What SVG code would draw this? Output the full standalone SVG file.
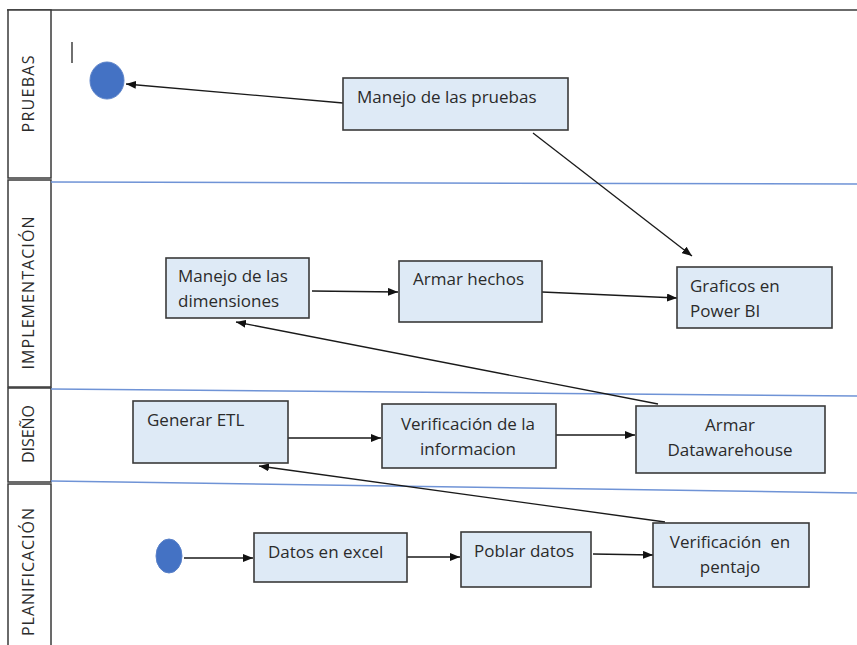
<svg xmlns="http://www.w3.org/2000/svg" width="857" height="645" viewBox="0 0 857 645">
<defs>
<marker id="ah" markerWidth="10" markerHeight="8" refX="10" refY="4" orient="auto" markerUnits="userSpaceOnUse">
<path d="M0,0 L10,4 L0,8 Z" fill="#111"/>
</marker>
<style>
.box{fill:#DEEAF6;stroke:#3a3a3a;stroke-width:1.6}
.t{font-family:"Open Sans","Liberation Sans",sans-serif;font-size:17px;fill:#2b2b2b}
.lane{font-family:"Open Sans","Liberation Sans",sans-serif;font-size:16px;fill:#2b2b2b}
.hdr{fill:#fff;stroke:#3a3a3a;stroke-width:1.5}
.sep{stroke:#6f93d6;stroke-width:1.5;fill:none}
.c{stroke:#1a1a1a;stroke-width:1.3;fill:none;marker-end:url(#ah)}
.dot{fill:#4472C4;stroke:#5b82c9;stroke-width:1}
</style>
</defs>
<rect width="857" height="645" fill="#fff"/>
<g id="lanes">
<line x1="7" y1="10" x2="857" y2="10" stroke="#3a3a3a" stroke-width="1.5"/>
<rect class="hdr" x="8" y="10" width="43" height="168"/>
<rect class="hdr" x="8" y="180" width="43" height="207"/>
<rect class="hdr" x="8" y="388" width="43" height="94"/>
<rect class="hdr" x="8" y="484" width="43" height="170"/>
<line class="sep" x1="51" y1="182" x2="857" y2="184"/>
<line class="sep" x1="51" y1="389" x2="857" y2="396"/>
<line class="sep" x1="51" y1="481" x2="857" y2="493"/>
<text class="lane" transform="translate(34,94) rotate(-90)" text-anchor="middle" textLength="77">PRUEBAS</text>
<text class="lane" transform="translate(34,293) rotate(-90)" text-anchor="middle" textLength="153">IMPLEMENTACIÓN</text>
<text class="lane" transform="translate(34,434) rotate(-90)" text-anchor="middle" textLength="58">DISEÑO</text>
<text class="lane" transform="translate(34,572) rotate(-90)" text-anchor="middle" textLength="128">PLANIFICACIÓN</text>
<line x1="72" y1="42" x2="72" y2="63" stroke="#222" stroke-width="1.3"/>
</g>
<g id="connectors">
<line class="c" x1="343" y1="103" x2="126" y2="84"/>
<line class="c" x1="533" y1="133" x2="692" y2="256"/>
<line class="c" x1="312" y1="291" x2="398" y2="292"/>
<line class="c" x1="542" y1="292" x2="677" y2="298"/>
<line class="c" x1="658" y1="404" x2="236" y2="322"/>
<line class="c" x1="288" y1="438" x2="381" y2="438"/>
<line class="c" x1="556" y1="435" x2="635" y2="435"/>
<line class="c" x1="665" y1="522" x2="259" y2="466"/>
<line class="c" x1="184" y1="558" x2="253" y2="558"/>
<line class="c" x1="407" y1="557" x2="460" y2="557"/>
<line class="c" x1="593" y1="554" x2="653" y2="555"/>
</g>
<g id="start-top"><ellipse class="dot" cx="107" cy="80.5" rx="17" ry="18.5"/></g>
<g id="start-bottom"><ellipse class="dot" cx="169" cy="556" rx="13" ry="17"/></g>
<g id="manejo-pruebas">
<rect class="box" x="343" y="78" width="225" height="52"/>
<text class="t" x="357" y="103">Manejo de las pruebas</text>
</g>
<g id="manejo-dimensiones">
<rect class="box" x="166" y="258" width="143" height="60"/>
<text class="t" x="178" y="282">Manejo de las</text>
<text class="t" x="178" y="307">dimensiones</text>
</g>
<g id="armar-hechos">
<rect class="box" x="399" y="261" width="143" height="61"/>
<text class="t" x="413" y="285">Armar hechos</text>
</g>
<g id="graficos">
<rect class="box" x="677" y="267" width="155" height="61"/>
<text class="t" x="690" y="292">Graficos en</text>
<text class="t" x="690" y="317">Power BI</text>
</g>
<g id="generar-etl">
<rect class="box" x="133" y="401" width="155" height="62"/>
<text class="t" x="147" y="426">Generar ETL</text>
</g>
<g id="verificacion-info">
<rect class="box" x="382" y="404" width="174" height="64"/>
<text class="t" x="468" y="430" text-anchor="middle">Verificación de la</text>
<text class="t" x="468" y="455" text-anchor="middle">informacion</text>
</g>
<g id="armar-dw">
<rect class="box" x="636" y="406" width="189" height="67"/>
<text class="t" x="730" y="431" text-anchor="middle">Armar</text>
<text class="t" x="730" y="456" text-anchor="middle">Datawarehouse</text>
</g>
<g id="datos-excel">
<rect class="box" x="254" y="533" width="153" height="49"/>
<text class="t" x="268" y="558">Datos en excel</text>
</g>
<g id="poblar-datos">
<rect class="box" x="461" y="532" width="130" height="55"/>
<text class="t" x="474" y="557">Poblar datos</text>
</g>
<g id="verificacion-pentajo">
<rect class="box" x="653" y="523" width="156" height="64"/>
<text class="t" x="730" y="548" text-anchor="middle" xml:space="preserve">Verificación  en</text>
<text class="t" x="730" y="573" text-anchor="middle">pentajo</text>
</g>
</svg>
